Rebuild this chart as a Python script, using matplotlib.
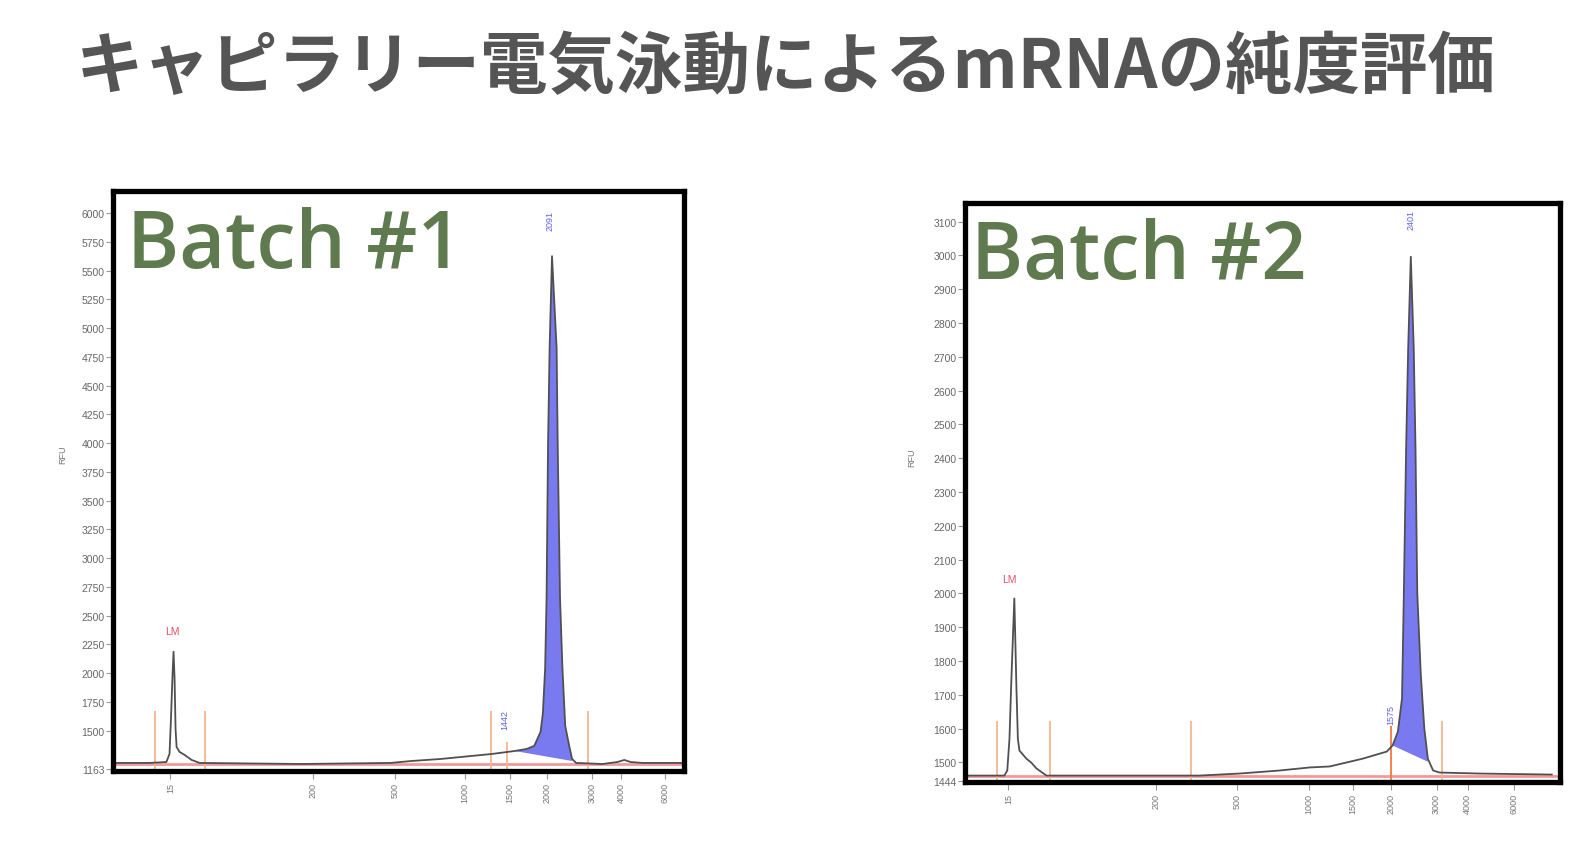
import matplotlib.pyplot as plt

plt.rcParams['font.family'] = ['Noto Sans CJK JP', 'DejaVu Sans']

title = "キャピラリー電気泳動によるmRNAの純度評価"

# ladder sizes (nt) and their place on the migration axis (0-100)
ladder_nt = ["15", "200", "500", "1000", "1500", "2000", "3000", "4000", "6000"]
b1_ladder_pos = [10.5, 35.3, 49.7, 61.8, 69.6, 76.2, 84.0, 89.1, 96.7]
b2_ladder_pos = [7.5, 32.6, 46.4, 58.7, 66.1, 72.6, 80.4, 85.7, 93.5]

b1_yticks = [1163, 1500, 1750, 2000, 2250, 2500, 2750, 3000, 3250, 3500, 3750,
             4000, 4250, 4500, 4750, 5000, 5250, 5500, 5750, 6000]
b2_yticks = [1444, 1500, 1600, 1700, 1800, 1900, 2000, 2100, 2200, 2300, 2400,
             2500, 2600, 2700, 2800, 2900, 3000, 3100]

# batch 1 trace: migration position, RFU
b1_pos = [0, 6.8, 9.8, 10.35, 10.6, 10.88, 11.05, 11.23, 11.4, 11.58, 12.1, 13.0,
          14.2, 15.6, 33.2, 48.9, 52.5, 57.7, 63.0, 66.5, 70.5, 72.6, 73.9, 75.0,
          75.4, 75.8, 76.05, 76.3, 76.58, 77.0, 77.8, 78.0, 78.4, 78.8, 79.3, 80.0,
          80.5, 81.2, 85.8, 88.4, 89.6, 90.7, 92.8, 100]
b1_rfu = [1218, 1218, 1226, 1296, 1601, 1993, 2185, 1950, 1514, 1357, 1314, 1287,
          1244, 1218, 1209, 1218, 1235, 1253, 1279, 1296, 1322, 1340, 1366, 1488,
          1645, 2037, 2646, 3953, 4824, 5625, 4824, 3953, 2646, 2063, 1540, 1366,
          1253, 1218, 1209, 1226, 1244, 1226, 1218, 1218]
b1_fill = (70.5, 80.5)            # main peak integration window
b1_fill_base = (1322, 1235)       # RFU of the fill's lower edge at its ends
b1_cuts = [7.8, 16.5, 66.3, 83.3]
b1_cut_top = 1671
b1_baseline = 1209
b1_lm = (10.9, 2367)
b1_peak = ("2091", 76.7, 5939)
b1_minor = ("1442", 69.1, 1400, 68.8, 1601)

# batch 2 trace
b2_pos = [0, 6.8, 7.3, 7.67, 8.0, 8.5, 8.86, 9.1, 9.37, 10.56, 11.4, 12.27, 13.97,
          23.0, 40.0, 46.85, 53.66, 58.77, 62.2, 67.8, 71.9, 72.9, 73.8, 74.5, 74.8,
          75.2, 75.55, 76.0, 76.5, 76.8, 77.1, 77.7, 78.3, 78.9, 79.8, 80.9, 87.7, 100]
b2_rfu = [1461, 1461, 1476, 1570, 1748, 1985, 1718, 1570, 1535, 1511, 1499, 1482,
          1461, 1461, 1461, 1467, 1476, 1485, 1488, 1511, 1532, 1550, 1591, 1689,
          1985, 2428, 2724, 2996, 2724, 2428, 2000, 1760, 1600, 1511, 1476, 1470,
          1467, 1464]
b2_fill = (72.9, 78.9)
b2_fill_base = (1550, 1502)
b2_cuts = [5.6, 14.6, 38.6, 81.3]
b2_cut_top = 1621
b2_baseline = 1459
b2_lm = (7.67, 2044)
b2_peak = ("2401", 76.0, 3109)
b2_minor = ("1575", 72.6, 1609, 72.6, 1644)

W, H = 1581, 845
fig = plt.figure(figsize=(W / 100, H / 100), dpi=100)
fig.patch.set_facecolor('white')


def box(l, t, r, b):
    return [l / W, 1 - b / H, (r - l) / W, (b - t) / H]


def panel(rect, xlim, ylim, yticks, lad_pos, pos, rfu, fill, fill_base,
          cuts, cut_top, baseline, lm, peak, minor, minor_color, rfu_xy):
    ax = fig.add_axes(rect)
    ax.set_xlim(*xlim)
    ax.set_ylim(*ylim)
    for s in ax.spines.values():
        s.set_linewidth(3.8)
        s.set_color('black')
        s.set_zorder(10)
    ax.set_yticks(yticks)
    ax.set_yticklabels([str(v) for v in yticks], family='Liberation Sans',
                       fontsize=7.5, color='#666666')
    ax.tick_params(axis='y', direction='out', length=5, width=0.8,
                   color='#999999', pad=1)
    ax.set_xticks(lad_pos)
    ax.set_xticklabels(ladder_nt, rotation=90, family='Liberation Sans',
                       fontsize=6.5, color='#777777', va='top')
    ax.tick_params(axis='x', direction='out', length=6, width=0.8,
                   color='#999999', pad=2)

    ax.axhline(baseline, color='#f29a9a', lw=2, zorder=1)
    ax.vlines(cuts, ylim[0], cut_top, color='#f6b68c', lw=1.3, zorder=1)
    ax.vlines(minor[1], ylim[0], minor[2], color=minor_color, lw=1.3, zorder=1)

    # integrated main peak
    xs = [p for p in pos if fill[0] <= p <= fill[1]]
    ys = [v for p, v in zip(pos, rfu) if fill[0] <= p <= fill[1]]
    ax.fill(xs + [fill[1], fill[0]], ys + [fill_base[1], fill_base[0]],
            color='#7a7af0', lw=0, zorder=2)
    ax.plot(pos, rfu, color='#505050', lw=1.3, zorder=3)

    ax.text(lm[0], lm[1], "LM", color='#e0506a', fontsize=7.5,
            family='Liberation Sans', ha='center', va='center')
    ax.text(peak[1], peak[2], peak[0], color='#6060e8', fontsize=6.5,
            family='Liberation Sans', rotation=90, ha='center', va='center')
    ax.text(minor[3], minor[4], minor[0], color='#6060e8', fontsize=6.5,
            family='Liberation Sans', rotation=90, ha='center', va='center')
    fig.text(rfu_xy[0] / W, 1 - rfu_xy[1] / H, "RFU", rotation=90, fontsize=6.5,
             family='Liberation Sans', color='#777777', ha='center', va='center')
    return ax


panel(box(113, 192, 684, 772), (0.5, 100), (1148, 6192), b1_yticks,
      b1_ladder_pos, b1_pos, b1_rfu, b1_fill, b1_fill_base, b1_cuts, b1_cut_top,
      b1_baseline, b1_lm, b1_peak, b1_minor, '#f6b68c', (63, 455))
panel(box(965, 204, 1560, 783), (0.1, 101.4), (1442, 3155), b2_yticks,
      b2_ladder_pos, b2_pos, b2_rfu, b2_fill, b2_fill_base, b2_cuts, b2_cut_top,
      b2_baseline, b2_lm, b2_peak, b2_minor, '#f07a40', (912, 458))

fig.text(786 / W, 1 - 68 / H, title, ha='center', va='center', fontsize=48.6,
         fontweight='bold', color='#555555', family=['Noto Sans CJK JP', 'DejaVu Sans'])
fig.text(127 / W, 1 - 268 / H, "Batch #1", ha='left', va='baseline', fontsize=57,
         fontweight=600, color='#5f7a4f', family='Open Sans')
fig.text(971 / W, 1 - 279 / H, "Batch #2", ha='left', va='baseline', fontsize=57,
         fontweight=600, color='#5f7a4f', family='Open Sans')

fig.savefig("out.png", dpi=100)
